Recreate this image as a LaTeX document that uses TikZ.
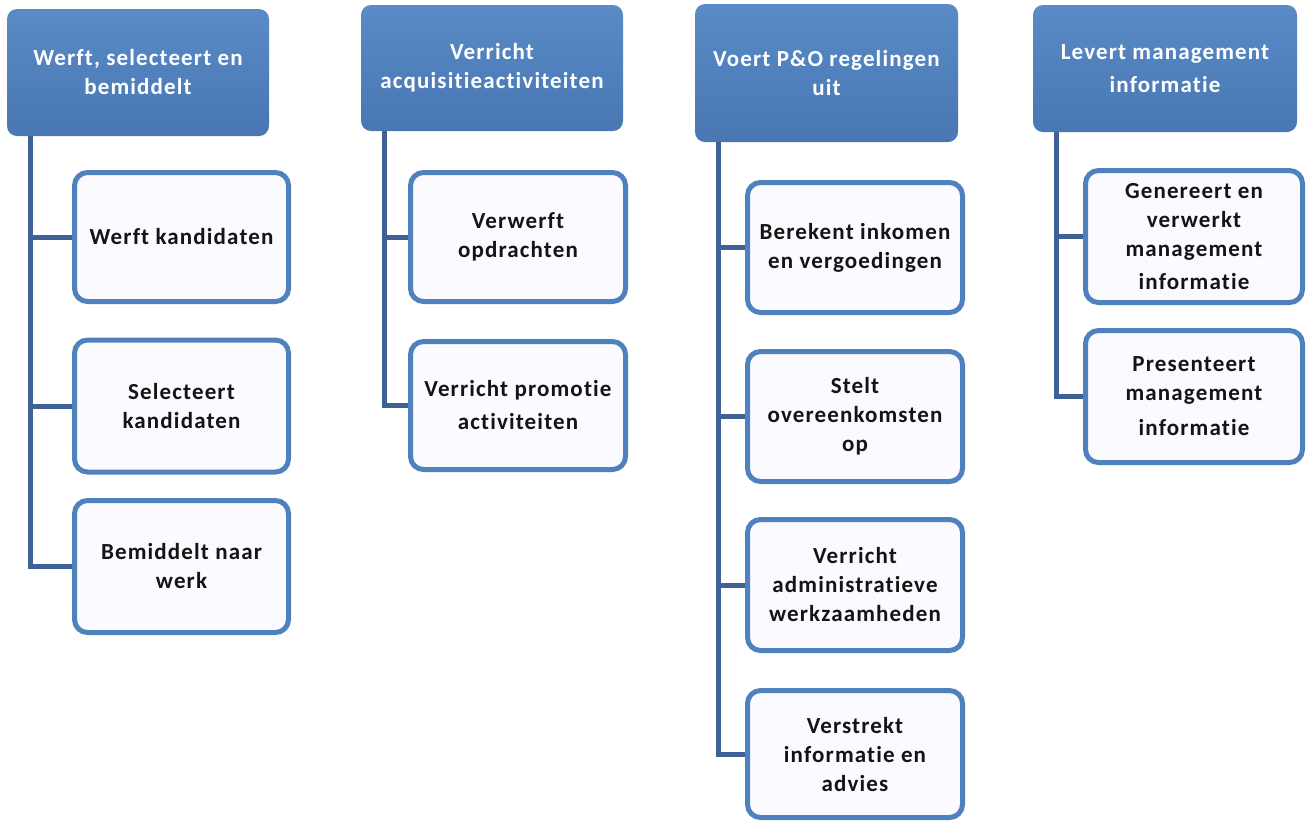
\documentclass[tikz,border=0pt]{standalone}
\usepackage{fontspec}
\setmainfont{Carlito}[LetterSpace=5,Ligatures=NoCommon]
\definecolor{hdrtop}{HTML}{5A8BC7}
\definecolor{hdrbot}{HTML}{4877B3}
\definecolor{boxline}{HTML}{4F81BD}
\definecolor{boxfill}{HTML}{FAFAFF}
\definecolor{connc}{HTML}{3F6296}
\tikzset{
  hdr/.style={rounded corners=10pt, top color=hdrtop, bottom color=hdrbot, draw=none,
    text=white, font=\bfseries\fontsize{23}{29}\selectfont, align=center, inner sep=0pt},
  sub/.style={rounded corners=13pt, draw=boxline, line width=5pt, fill=boxfill,
    text=black!92, font=\bfseries\fontsize{23}{29}\selectfont, align=center, inner sep=0pt},
  conn/.style={draw=connc, line width=5pt}
}
\begin{document}
\begin{tikzpicture}[x=1pt,y=-1pt]
\useasboundingbox (0,0) rectangle (1306,823);
% headers
\node[hdr, minimum width=262, minimum height=127] (h1) at (138,72.5) {Werft, selecteert en\\bemiddelt};
\node[hdr, minimum width=262, minimum height=126] (h2) at (492,68) {Verricht\\acquisitieactiviteiten};
\node[hdr, minimum width=263, minimum height=138] (h3) at (826.5,73) {Voert P\&O regelingen\\uit};
\node[hdr, minimum width=264, minimum height=127] (h4) at (1165,68.5) {Levert management\\[4pt]informatie};
% column 1
\node[sub, minimum width=214, minimum height=129] (c11) at (181.5,237) {Werft kandidaten};
\node[sub, minimum width=214, minimum height=132] (c12) at (181.5,406) {Selecteert\\kandidaten};
\node[sub, minimum width=214, minimum height=132] (c13) at (181.5,566.5) {Bemiddelt naar\\werk};
% column 2
\node[sub, minimum width=215, minimum height=129] (c21) at (518,237) {Verwerft\\opdrachten};
\node[sub, minimum width=215, minimum height=128] (c22) at (518,405.5) {Verricht promotie\\[4pt]activiteiten};
% column 3
\node[sub, minimum width=215, minimum height=130] (c31) at (855,247.5) {Berekent inkomen\\en vergoedingen};
\node[sub, minimum width=215, minimum height=130] (c32) at (855,416.5) {Stelt\\overeenkomsten\\op};
\node[sub, minimum width=215, minimum height=131] (c33) at (855,585) {Verricht\\administratieve\\werkzaamheden};
\node[sub, minimum width=215, minimum height=127] (c34) at (855,754) {Verstrekt\\informatie en\\advies};
% column 4
\node[sub, minimum width=217, minimum height=132] (c41) at (1194,236.5) {Genereert en\\verwerkt\\management\\[4pt]informatie};
\node[sub, minimum width=217, minimum height=132] (c42) at (1194,396.5) {Presenteert\\management\\[6pt]informatie};
% connectors
\foreach \h/\c in {h1/c11,h1/c12,h1/c13,h2/c21,h2/c22,h3/c31,h3/c32,h3/c33,h3/c34,h4/c41,h4/c42}
  \draw[conn] ([xshift=24pt]\h.south west) |- (\c.west);
\end{tikzpicture}
\end{document}
